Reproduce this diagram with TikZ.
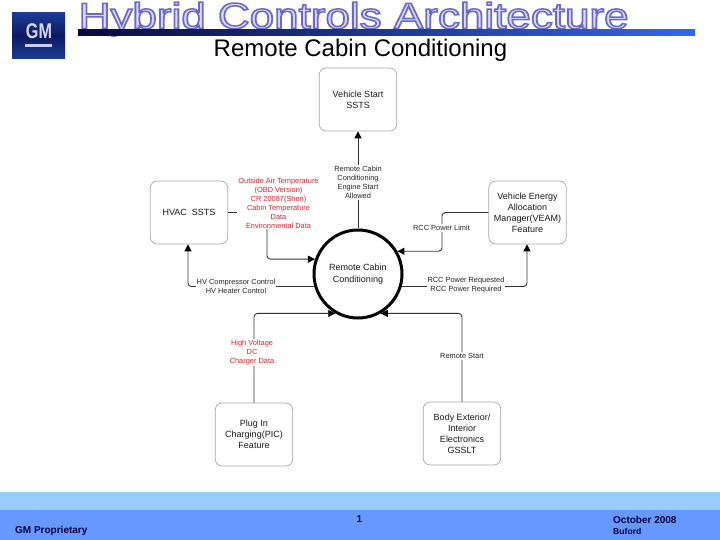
\documentclass[tikz,border=0pt]{standalone}
\usepackage{fontspec}
\setmainfont{Liberation Sans}
\usetikzlibrary{arrows.meta,shapes.geometric}
\definecolor{boxline}{HTML}{A8A8A8}
\definecolor{redtxt}{HTML}{D8222E}
\definecolor{navy}{HTML}{000040}
\definecolor{bandlight}{HTML}{99CCFF}
\definecolor{banddark}{HTML}{6699FF}
\definecolor{barleft}{HTML}{0A0A3A}
\definecolor{barright}{HTML}{3366EE}
\definecolor{logotop}{HTML}{1C3C96}
\definecolor{logomid}{HTML}{0E2470}
\definecolor{logolow}{HTML}{0A1A60}
\tikzset{
  boxnode/.style={draw=boxline,line width=0.7pt,rounded corners=7pt,minimum width=77.5pt,minimum height=63pt,inner sep=0pt,align=center,font=\fontsize{9}{11}\selectfont,text=black!90},
  conn/.style={draw=black!80,line width=0.9pt,rounded corners=3.5pt},
  arrowed/.style={conn,-{Triangle[length=7pt,width=7pt,color=black]}},
  lab/.style={fill=white,inner sep=1pt,align=center,font=\fontsize{7.4}{9}\selectfont,text=black!85},
  redlab/.style={lab,text=redtxt},
  foot/.style={inner sep=0pt,anchor=base west,text=navy,font=\fontsize{10}{10}\selectfont\bfseries}
}
\begin{document}
\begin{tikzpicture}[x=1pt,y=-1pt]
\useasboundingbox (0,0) rectangle (720,540);
% header
\node[inner sep=0pt,anchor=base west,font=\fontsize{36.5}{37}\selectfont] (title) at (78.5,28.5) {\scalebox{1.205}[1]{\special{pdf:code 2 Tr 1.5 w 0.86 0.86 0.97 rg 0.42 0.42 0.78 RG}Hybrid Controls Architecture\special{pdf:code 0 Tr 0 0 0 rg 0 0 0 RG 0.4 w}}};
\shade[left color=barleft,right color=barright] (78,30) rectangle (695,36);
\node[inner sep=0pt,font=\fontsize{24}{24}\selectfont,text=black] (sub) at (360.5,50) {Remote Cabin Conditioning};
\shade[top color=logotop,bottom color=logotop,middle color=logolow] (12,13) rectangle (65,59);
\node[inner sep=0pt,text=white!85!blue,font=\fontsize{17}{17}\selectfont\bfseries] (gm) at (39,31.5) {\scalebox{0.95}[1.25]{GM}};
\fill[white!80!blue] (25,44) rectangle (52,47);
% boxes
\node[boxnode] (vs) at (358,99.5) {Vehicle Start\\SSTS};
\node[boxnode] (hv) at (189,212.5) {HVAC\ \ SSTS};
\node[boxnode] (ve) at (527.5,212.5) {Vehicle Energy\\Allocation\\Manager(VEAM)\\Feature};
\node[boxnode] (pl) at (254,434.5) {Plug In\\Charging(PIC)\\Feature};
\node[boxnode] (be) at (462,433.5) {Body Exterior/\\Interior\\Electronics\\GSSLT};
\node[circle,draw=black,line width=3pt,minimum size=88pt,inner sep=0pt,align=center,font=\fontsize{9}{11.5}\selectfont,text=black!90] (rc) at (358,274) {Remote Cabin\\Conditioning};
% bends
\coordinate (b1) at (267,260);
\coordinate (b2) at (188,286);
\coordinate (b3) at (442,251);
\coordinate (b4) at (527,286);
% connectors
\draw[arrowed] (rc.north) -- (vs.south);
\draw[arrowed] (hv.east) -- (hv.east -| b1) -- (b1 |- rc.161) -- (rc.161);
\draw[arrowed] (rc.196) -- (b2 |- rc.196) -- (hv.south -| b2);
\draw[arrowed] (ve.west) -- (ve.west -| b3) -- (b3 |- rc.30) -- (rc.30);
\draw[arrowed] (rc.344) -- (b4 |- rc.344) -- (ve.south -| b4);
\draw[arrowed] (pl.north) -- (pl.north |- rc.240) -- (rc.240);
\draw[arrowed] (be.north) -- (be.north |- rc.300) -- (rc.300);
% labels
\node[lab] (l1) at (358,182.5) {Remote Cabin\\Conditioning\\Engine Start\\Allowed};
\node[redlab] (l2) at (278.5,203) {Outside Air Temperature\\(OBD Version)\\CR 20087(Shen)\\Cabin Temperature\\Data\\Environmental Data};
\node[lab] (l3) at (236,286) {HV Compressor Control\\HV Heater Control};
\node[lab] (l4) at (441.5,228) {RCC Power Limit};
\node[lab] (l5) at (466,285) {RCC Power Requested\\RCC Power Required};
\node[redlab] (l6) at (252,352.5) {High Voltage\\DC\\Charger Data};
\node[lab] (l7) at (462,356) {Remote Start};
% footer
\fill[bandlight] (0,492) rectangle (720,510);
\fill[banddark] (0,510) rectangle (720,540);
\node[foot] (f1) at (15,533.5) {GM Proprietary};
\node[foot,anchor=base] (f2) at (359.5,522.5) {1};
\node[foot] (f3) at (613,523.5) {October 2008};
\node[foot,font=\fontsize{8.6}{10}\selectfont\bfseries] (f4) at (613,534.5) {Buford};
\end{tikzpicture}
\end{document}
